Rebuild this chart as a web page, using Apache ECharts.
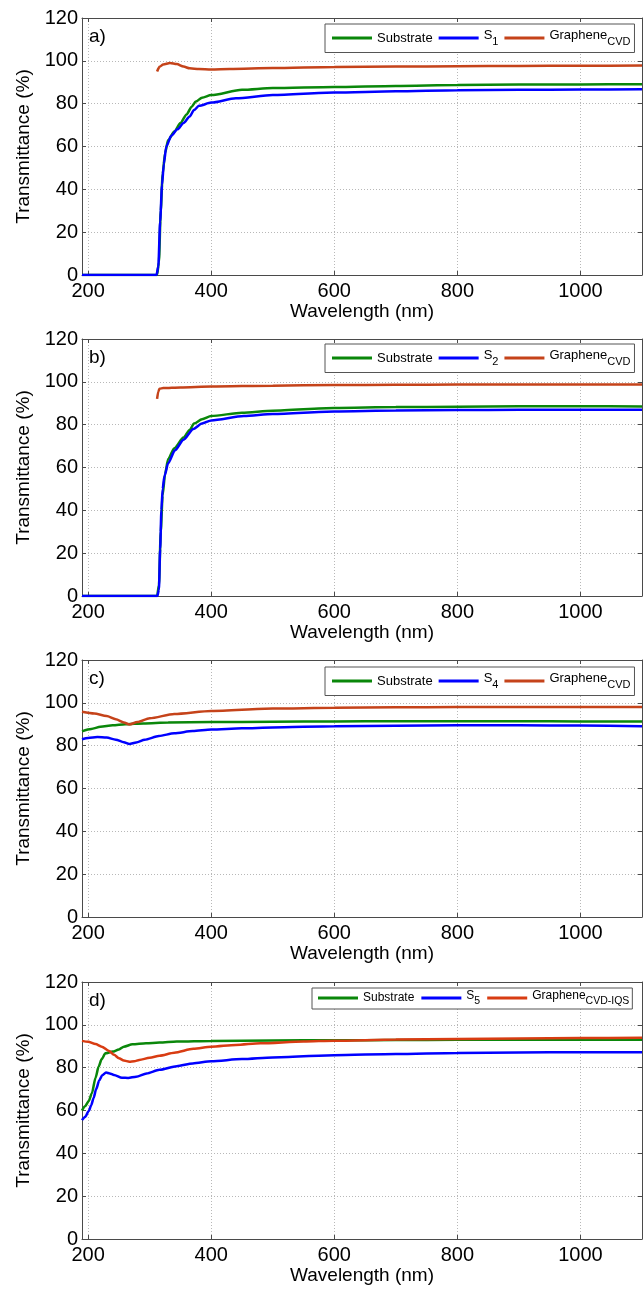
<!DOCTYPE html>
<html><head><meta charset="utf-8">
<script src="https://cdn.jsdelivr.net/npm/echarts@6/dist/echarts.min.js"></script>
<style>html,body{margin:0;padding:0;background:#fff}#c{width:644px;height:1290px}</style>
</head><body><div id="c"></div><script>
// ---- data ----
const xTickValues = [200, 400, 600, 800, 1000];
const panelLabels = ['a)', 'b)', 'c)', 'd)'];
const seriesNames = [
  ['Substrate', 'S1', 'GrapheneCVD'],
  ['Substrate', 'S2', 'GrapheneCVD'],
  ['Substrate', 'S4', 'GrapheneCVD'],
  ['Substrate', 'S5', 'GrapheneCVD-IQS']
];
// panel a
const aSubX = [190, 312, 315, 318, 321, 325, 330, 340, 350, 360, 368, 375, 385, 400, 450, 500, 600, 700, 800, 900, 1000, 1100];
const aSubY = [0, 0, 6, 30, 47, 57, 63, 67, 71, 75, 78.5, 81, 82.8, 84, 86.5, 87.3, 87.8, 88.3, 88.7, 88.9, 89, 89.1];
const aS1X = [190, 311, 314, 317, 320, 323, 327, 335, 345, 355, 365, 372, 380, 400, 440, 500, 600, 700, 800, 900, 1000, 1100];
const aS1Y = [0, 0, 4, 25, 42, 52, 60, 65, 68, 71, 74, 77, 79, 80.5, 82.5, 84, 85.2, 85.8, 86.3, 86.5, 86.6, 86.7];
const aGrX = [312, 316, 322, 333, 344, 355, 365, 380, 400, 430, 500, 600, 700, 800, 900, 1000, 1100];
const aGrY = [95, 97.2, 98.3, 99, 98.5, 97.3, 96.5, 96.2, 96, 96.2, 96.6, 97.1, 97.3, 97.5, 97.6, 97.7, 97.8];
// panel b
const bSubX = [190, 312, 315, 318, 321, 325, 330, 340, 355, 365, 372, 385, 400, 450, 500, 600, 700, 800, 900, 1000, 1100];
const bSubY = [0, 0, 5, 30, 47, 57, 64, 69, 74, 77.5, 80.5, 82.5, 84, 85.6, 86.5, 87.8, 88.2, 88.4, 88.6, 88.6, 88.5];
const bS2X = [190, 312.5, 315, 317, 319, 321, 324, 330, 341, 355, 371, 385, 400, 453, 500, 600, 700, 800, 900, 1000, 1100];
const bS2Y = [0, 0, 3, 22, 40, 50, 56, 62, 68, 73, 78, 80.5, 82, 84, 85, 86.2, 86.6, 86.8, 87, 87, 87];
const bGrX = [312, 314, 316, 322, 350, 400, 500, 600, 700, 800, 900, 1000, 1100];
const bGrY = [92, 95.5, 96.8, 97.1, 97.4, 97.8, 98.2, 98.5, 98.6, 98.7, 98.8, 98.8, 98.8];
// panel c
const cSubX = [190, 205, 220, 240, 260, 290, 330, 400, 500, 600, 700, 800, 900, 1000, 1100];
const cSubY = [86.7, 87.8, 88.8, 89.5, 90, 90.4, 90.8, 91, 91.2, 91.3, 91.4, 91.4, 91.4, 91.3, 91.3];
const cS4X = [190, 200, 215, 230, 245, 258, 267, 278, 292, 315, 340, 370, 400, 450, 500, 600, 700, 800, 900, 1000, 1100];
const cS4Y = [83, 83.6, 84, 83.8, 82.8, 81.6, 80.8, 81.5, 82.8, 84.5, 85.8, 86.8, 87.5, 88.1, 88.5, 89.1, 89.3, 89.5, 89.5, 89.4, 89.1];
const cGrX = [190, 210, 230, 245, 258, 267, 280, 300, 340, 400, 500, 600, 700, 800, 900, 1000, 1100];
const cGrY = [95.8, 95, 93.8, 92.3, 90.8, 89.9, 91, 92.8, 94.8, 96.2, 97.3, 97.7, 97.9, 98, 98, 98, 98];
// panel d
const dSubX = [190, 195, 201, 206, 212, 217, 222, 228, 240, 250, 258, 272, 294, 316, 344, 400, 500, 600, 700, 800, 900, 1000, 1100];
const dSubY = [60, 62, 64.4, 68, 75.3, 80.5, 84, 86.7, 87.5, 88.5, 89.8, 90.9, 91.4, 91.7, 92.2, 92.5, 92.7, 92.8, 92.9, 93, 93, 93, 93];
const dS5X = [190, 195, 201, 205, 209, 213, 218, 223, 229, 235, 242, 255, 265, 278, 295, 316, 344, 370, 400, 450, 500, 600, 700, 800, 900, 1000, 1100];
const dS5Y = [55.5, 57, 59.8, 62.5, 66, 70, 74, 76.5, 77.7, 77.3, 76.6, 75.3, 75.2, 75.8, 77.3, 79, 80.7, 82, 83, 84, 84.8, 85.8, 86.4, 86.9, 87.1, 87.2, 87.2];
const dGrX = [190, 200, 212, 222, 234, 242, 250, 258, 267, 275, 283, 300, 316, 340, 371, 400, 440, 480, 550, 600, 700, 800, 900, 1000, 1100];
const dGrY = [92.5, 92.1, 91, 89.8, 87.8, 86, 84.4, 83.3, 82.8, 83, 83.6, 84.6, 85.6, 87, 88.8, 89.8, 90.6, 91.4, 92.2, 92.6, 93.1, 93.4, 93.6, 93.8, 94];

const panelData = [
  [[aSubX, aSubY], [aS1X, aS1Y], [aGrX, aGrY]],
  [[bSubX, bSubY], [bS2X, bS2Y], [bGrX, bGrY]],
  [[cSubX, cSubY], [cS4X, cS4Y], [cGrX, cGrY]],
  [[dSubX, dSubY], [dS5X, dS5Y], [dGrX, dGrY]]
];

// ---- layout / style ----
const FONT = 'Liberation Sans, Arial, sans-serif';
const tops = [18, 339, 660, 982];
const PH = 257;
const legendTops = [24, 344, 667, 988];
const colors = [['#0a870a', '#0000ff', '#c5431a'], ['#0a870a', '#0000ff', '#c5431a'], ['#0a870a', '#0000ff', '#c5431a'], ['#0a870a', '#0000ff', '#d83c12']];
const axisColor = '#4a4a4a';

function pairs(xs, ys) { return xs.map((x, i) => [x, ys[i]]); }

const legendRich = {
  t: { fontSize: 13, fontFamily: FONT, color: '#000' },
  m: { fontSize: 13, fontFamily: FONT, color: '#000', padding: [0, 0, 5, 0] },
  s: { fontSize: 11, fontFamily: FONT, color: '#000', padding: [8, 0, 0, 0] },
  t2: { fontSize: 12, fontFamily: FONT, color: '#000' },
  m2: { fontSize: 12, fontFamily: FONT, color: '#000', padding: [0, 0, 4, 0] },
  s2: { fontSize: 10.5, fontFamily: FONT, color: '#000', padding: [7, 0, 0, 0] }
};
function legendFormatter(small) {
  const t = small ? 't2' : 't', m = small ? 'm2' : 'm', s = small ? 's2' : 's';
  return function (name) {
    if (name === 'Substrate') return '{' + t + '|Substrate}';
    const mt = name.match(/^S(\d)$/);
    if (mt) return '{' + m + '|S}{' + s + '|' + mt[1] + '}';
    if (name.indexOf('Graphene') === 0) return '{' + m + '|Graphene}{' + s + '|' + name.slice(8) + '}';
    return name;
  };
}

const grid = [], xAxis = [], yAxis = [], series = [], legend = [], title = [];
tops.forEach((top, i) => {
  grid.push({ left: 82, right: 2, top: top, height: PH, show: false });
  xAxis.push({
    gridIndex: i, type: 'value', min: 190, max: 1100, position: 'bottom',
    axisLine: { onZero: false, lineStyle: { color: axisColor, width: 1 } },
    axisTick: { inside: true, length: 4, customValues: xTickValues, lineStyle: { color: axisColor } },
    axisLabel: { customValues: xTickValues, color: '#000', fontSize: 20, fontFamily: FONT, margin: 6, formatter: v => String(v) },
    splitLine: { show: true, lineStyle: { color: '#b8b8b8', type: [1, 2], width: 1 } },
    name: 'Wavelength (nm)', nameLocation: 'middle', nameGap: 27,
    nameTextStyle: { color: '#000', fontSize: 19, fontFamily: FONT }
  });
  xAxis.push({
    gridIndex: i, type: 'value', min: 190, max: 1100, position: 'top',
    axisLine: { onZero: false, lineStyle: { color: axisColor, width: 1 } },
    axisTick: { inside: true, length: 4, customValues: xTickValues, lineStyle: { color: axisColor } },
    axisLabel: { show: false }, splitLine: { show: false }
  });
  yAxis.push({
    gridIndex: i, type: 'value', min: 0, max: 120, interval: 20, position: 'left',
    axisLine: { show: true, onZero: false, lineStyle: { color: axisColor, width: 1 } },
    axisTick: { show: true, inside: true, length: 4, lineStyle: { color: axisColor } },
    axisLabel: { color: '#000', fontSize: 20, fontFamily: FONT, margin: 4, formatter: v => String(v) },
    splitLine: { show: true, lineStyle: { color: '#b8b8b8', type: [1, 2], width: 1 } },
    name: 'Transmittance (%)', nameLocation: 'middle', nameGap: 47,
    nameTextStyle: { color: '#000', fontSize: 19, fontFamily: FONT }
  });
  yAxis.push({
    gridIndex: i, type: 'value', min: 0, max: 120, interval: 20, position: 'right',
    axisLine: { show: true, onZero: false, lineStyle: { color: axisColor, width: 1 } },
    axisTick: { show: true, inside: true, length: 4, lineStyle: { color: axisColor } },
    axisLabel: { show: false }, splitLine: { show: false }
  });
  seriesNames[i].forEach((nm, k) => {
    const [xs, ys] = panelData[i][k];
    series.push({
      type: 'line', name: nm, xAxisIndex: 2 * i, yAxisIndex: 2 * i,
      data: pairs(xs, ys), showSymbol: false, symbol: 'none',
      smooth: 0.25, smoothMonotone: 'x',
      lineStyle: { color: colors[i][k], width: 2.5 }, itemStyle: { color: colors[i][k] },
      z: 2 + k, silent: true, animation: false
    });
  });
  const small = i === 3;
  legend.push({
    data: seriesNames[i], left: small ? 312 : 325, top: legendTops[i], width: small ? 340 : 320,
    orient: 'horizontal', icon: 'rect', itemWidth: 40, itemHeight: 3, itemGap: small ? 7 : 6,
    itemTextGap: 5,
    padding: small ? [2, 3, 2, 6] : [5, 4, 5, 7],
    backgroundColor: '#fff', borderColor: '#555', borderWidth: 1,
    formatter: legendFormatter(small),
    textStyle: { rich: legendRich, fontFamily: FONT }, selectedMode: false
  });
  title.push({
    text: panelLabels[i], left: 89, top: top + 9, padding: 0,
    textStyle: { fontSize: 19, fontWeight: 'normal', color: '#000', fontFamily: FONT }
  });
});

const chart = echarts.init(document.getElementById('c'), null, { renderer: 'canvas' });
chart.setOption({ animation: false, backgroundColor: '#fff', grid, xAxis, yAxis, series, legend, title });
</script></body></html>
